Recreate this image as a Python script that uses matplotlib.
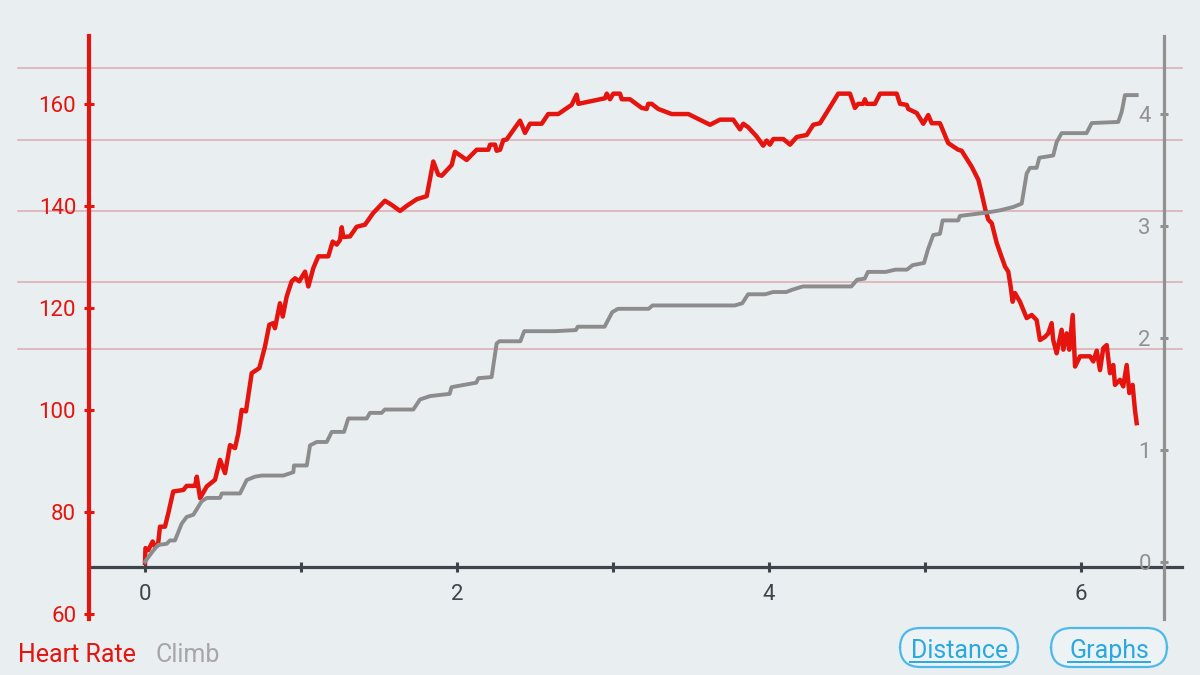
import matplotlib
matplotlib.use("Agg")
import matplotlib.pyplot as plt
from matplotlib.ticker import MultipleLocator, FuncFormatter, FixedLocator
from matplotlib.patches import FancyBboxPatch
from matplotlib.lines import Line2D

plt.rcParams['font.family'] = ['Roboto', 'DejaVu Sans']

# ---- data (distance, heart rate) ----
hr_dist = [0.000, 0.003, 0.021, 0.049, 0.064, 0.083, 0.096, 0.128, 0.149, 0.181, 0.246, 0.267,
           0.321, 0.332, 0.353, 0.396, 0.449, 0.481, 0.513, 0.545, 0.577, 0.598, 0.620, 0.647,
           0.684, 0.733, 0.769, 0.797, 0.822, 0.833, 0.865, 0.883, 0.908, 0.940, 0.962, 0.989,
           1.026, 1.047, 1.079, 1.111, 1.175, 1.203, 1.229, 1.250, 1.261, 1.271, 1.314, 1.357,
           1.410, 1.463, 1.538, 1.581, 1.635, 1.678, 1.742, 1.806, 1.848, 1.880, 1.902, 1.966,
           1.987, 2.062, 2.126, 2.201, 2.212, 2.244, 2.254, 2.276, 2.297, 2.318, 2.404, 2.436,
           2.468, 2.543, 2.585, 2.649, 2.735, 2.767, 2.778, 2.949, 2.960, 2.981, 3.002, 3.045,
           3.056, 3.109, 3.184, 3.216, 3.226, 3.248, 3.290, 3.376, 3.483, 3.622, 3.686, 3.771,
           3.814, 3.835, 3.867, 3.921, 3.963, 3.985, 4.006, 4.028, 4.092, 4.135, 4.178, 4.242,
           4.284, 4.327, 4.380, 4.444, 4.519, 4.551, 4.572, 4.604, 4.615, 4.626, 4.679, 4.712,
           4.819, 4.840, 4.883, 4.893, 4.947, 4.989, 5.021, 5.043, 5.096, 5.149, 5.213, 5.235,
           5.278, 5.299, 5.342, 5.363, 5.385, 5.406, 5.428, 5.460, 5.513, 5.534, 5.549, 5.562,
           5.577, 5.609, 5.652, 5.684, 5.716, 5.737, 5.769, 5.790, 5.812, 5.822, 5.844, 5.876,
           5.887, 5.908, 5.925, 5.947, 5.962, 5.994, 6.058, 6.079, 6.101, 6.122, 6.143, 6.165,
           6.186, 6.207, 6.218, 6.250, 6.271, 6.293, 6.310, 6.331, 6.346, 6.357]
heart_rate = [70.0, 72.9, 72.5, 74.2, 73.2, 73.5, 77.1, 77.1, 79.7, 84.0, 84.3, 85.1,
              85.1, 86.9, 82.7, 85.0, 86.3, 90.2, 87.6, 93.1, 92.5, 95.4, 100.0, 99.7,
              107.2, 108.2, 112.4, 116.7, 117.0, 116.0, 120.9, 118.3, 122.2, 125.2, 125.8, 125.2,
              127.1, 124.2, 127.8, 130.1, 130.1, 133.0, 132.4, 133.3, 135.8, 133.9, 134.0, 135.9,
              136.3, 138.6, 141.0, 140.2, 139.0, 140.0, 141.3, 141.9, 148.7, 146.1, 145.9, 148.0,
              150.6, 149.0, 151.0, 151.0, 152.0, 152.0, 150.8, 151.0, 152.9, 153.0, 156.7, 154.3,
              156.1, 156.1, 158.0, 158.0, 159.8, 161.8, 160.0, 161.1, 162.0, 160.9, 162.0, 162.0,
              160.9, 160.9, 159.2, 159.0, 160.0, 160.0, 159.0, 158.0, 158.0, 155.9, 156.9, 156.9,
              155.0, 156.1, 155.4, 153.6, 151.8, 152.8, 152.0, 153.1, 153.1, 152.0, 153.5, 153.9,
              155.9, 156.2, 158.8, 162.0, 162.0, 159.2, 160.0, 160.0, 160.9, 160.0, 160.0, 162.0,
              162.0, 160.0, 159.8, 159.0, 158.2, 156.1, 157.8, 156.2, 156.2, 152.3, 151.0, 150.8,
              148.7, 147.7, 145.1, 142.5, 139.5, 137.3, 136.6, 132.7, 128.1, 127.1, 124.2, 121.2,
              122.9, 121.2, 118.0, 118.6, 117.6, 113.7, 114.3, 115.0, 117.0, 113.7, 111.1, 115.7,
              111.8, 115.0, 111.8, 118.6, 108.5, 110.5, 110.5, 109.5, 111.6, 107.8, 112.1, 112.7,
              107.2, 108.8, 104.9, 105.9, 104.6, 108.8, 103.3, 104.9, 100.0, 97.4]

# ---- data (distance, climb) ----
climb_dist = [0.000, 0.053, 0.085, 0.139, 0.160, 0.192, 0.235, 0.267, 0.310, 0.363, 0.396, 0.481,
              0.492, 0.609, 0.652, 0.705, 0.748, 0.887, 0.951, 0.955, 1.037, 1.058, 1.101, 1.165,
              1.197, 1.276, 1.303, 1.421, 1.442, 1.517, 1.538, 1.720, 1.763, 1.827, 1.953, 1.965,
              2.124, 2.137, 2.222, 2.254, 2.271, 2.406, 2.431, 2.627, 2.762, 2.774, 2.946, 2.995,
              3.032, 3.228, 3.253, 3.780, 3.829, 3.866, 3.976, 4.026, 4.111, 4.148, 4.217, 4.528,
              4.565, 4.614, 4.634, 4.749, 4.810, 4.884, 4.921, 4.994, 5.019, 5.053, 5.096, 5.113,
              5.213, 5.224, 5.395, 5.481, 5.566, 5.620, 5.652, 5.673, 5.716, 5.733, 5.822, 5.844,
              5.876, 6.036, 6.069, 6.239, 6.261, 6.282, 6.357]
climb = [0.00, 0.10, 0.15, 0.16, 0.19, 0.19, 0.34, 0.40, 0.42, 0.54, 0.57, 0.57,
         0.61, 0.61, 0.73, 0.76, 0.77, 0.77, 0.80, 0.86, 0.86, 1.04, 1.07, 1.07,
         1.16, 1.16, 1.28, 1.28, 1.33, 1.33, 1.36, 1.36, 1.45, 1.48, 1.50, 1.56,
         1.60, 1.64, 1.65, 1.95, 1.97, 1.97, 2.06, 2.06, 2.07, 2.10, 2.10, 2.23,
         2.26, 2.26, 2.29, 2.29, 2.31, 2.39, 2.39, 2.41, 2.41, 2.43, 2.46, 2.46,
         2.52, 2.53, 2.59, 2.59, 2.61, 2.61, 2.65, 2.67, 2.79, 2.92, 2.93, 3.05,
         3.05, 3.09, 3.12, 3.14, 3.17, 3.20, 3.47, 3.52, 3.52, 3.61, 3.63, 3.75,
         3.83, 3.83, 3.92, 3.93, 4.02, 4.17, 4.17]

hr_ticks = [60, 80, 100, 120, 140, 160]
climb_ticks = [0, 1, 2, 3, 4]
zone_lines = [112, 125, 139, 153, 167]

RED = '#e5140e'
GRAY_LINE = '#8c8c8c'
GRAY_AX = '#919191'
DARK = '#3e444b'
BG = '#e9eef1'
BLUE = '#2aa9e1'

fig = plt.figure(figsize=(12, 6.75), dpi=100, facecolor=BG)
ax = fig.add_axes([0.07417, 0.08296, 0.8958, 0.8637])
ax.set_facecolor(BG)
ax2 = ax.twinx()

ax.set_xlim(-0.359, 6.532)
ax.set_ylim(59.0, 173.3)
ax2.set_ylim(-0.512, 4.698)

# zone lines
for z in zone_lines:
    ax.axhline(z, xmin=-0.066, xmax=1.017, color='#dcaaae', lw=1.1, clip_on=False, zorder=1)

# x-axis line
ax.axhline(69.22, xmin=0.003, xmax=1.017, color=DARK, lw=2.3, clip_on=False, zorder=2)

ax.plot(hr_dist, heart_rate, color=RED, lw=3.2, solid_joinstyle='round', zorder=3)
ax2.plot(climb_dist, climb, color=GRAY_LINE, lw=2.8, solid_joinstyle='round', zorder=3)

# spines
for s in ['top', 'right']:
    ax.spines[s].set_visible(False)
ax.spines['left'].set_color(RED)
ax.spines['left'].set_linewidth(3)
ax.spines['bottom'].set_position(('data', 69.22))
ax.spines['bottom'].set_visible(False)
for s in ['top', 'left', 'bottom']:
    ax2.spines[s].set_visible(False)
ax2.spines['right'].set_color(GRAY_AX)
ax2.spines['right'].set_linewidth(2.3)

# left ticks
ax.yaxis.set_major_locator(FixedLocator(hr_ticks))
ax.tick_params(axis='y', direction='inout', length=6.5, width=2.2, color=RED,
               labelcolor=RED, labelsize=16, pad=6)
# right ticks (labels inside)
ax2.yaxis.set_major_locator(FixedLocator(climb_ticks))
ax2.tick_params(axis='y', direction='inout', length=6, width=2.2, color=GRAY_AX,
                labelcolor=GRAY_AX, labelsize=16, pad=-12.4)
for lab in ax2.get_yticklabels():
    lab.set_horizontalalignment('right')

# x ticks
ax.xaxis.set_major_locator(MultipleLocator(1))
ax.xaxis.set_major_formatter(FuncFormatter(lambda v, p: f"{int(round(v))}" if int(round(v)) % 2 == 0 else ""))
ax.tick_params(axis='x', direction='inout', length=7, width=2.2, color=DARK,
               labelcolor=DARK, labelsize=16, pad=9)

# legend labels
fig.text(18 / 1200, 1 - 661.7 / 675, 'Heart Rate', color=RED, fontsize=18, va='baseline', ha='left')
fig.text(155 / 1200, 1 - 661.7 / 675, 'Climb', color='#a6a6a6', fontsize=18, va='baseline', ha='left')

# buttons
W, H = 1200.0, 675.0
buttons = [("Distance", 900, 1018, 910, 1009), ("Graphs", 1051, 1167, 1068, 1150)]
for label, x0, x1, u0, u1 in buttons:
    box = FancyBboxPatch((x0 / W, 1 - 667 / H), (x1 - x0) / W, (667 - 628) / H,
                         boxstyle="round,pad=0,rounding_size=0.017",
                         transform=fig.transFigure, facecolor='#edf2f5',
                         edgecolor='#4cb9ea', lw=1.6, mutation_aspect=W / H)
    fig.add_artist(box)
    fig.text((u0 + u1) / 2 / W, 1 - 658 / H, label, color=BLUE, fontsize=18,
             ha='center', va='baseline')
    fig.add_artist(Line2D([u0 / W, u1 / W], [1 - 661.7 / H, 1 - 661.7 / H],
                          transform=fig.transFigure, color=BLUE, lw=1.4))

fig.savefig('out.png', dpi=100, facecolor=BG)
